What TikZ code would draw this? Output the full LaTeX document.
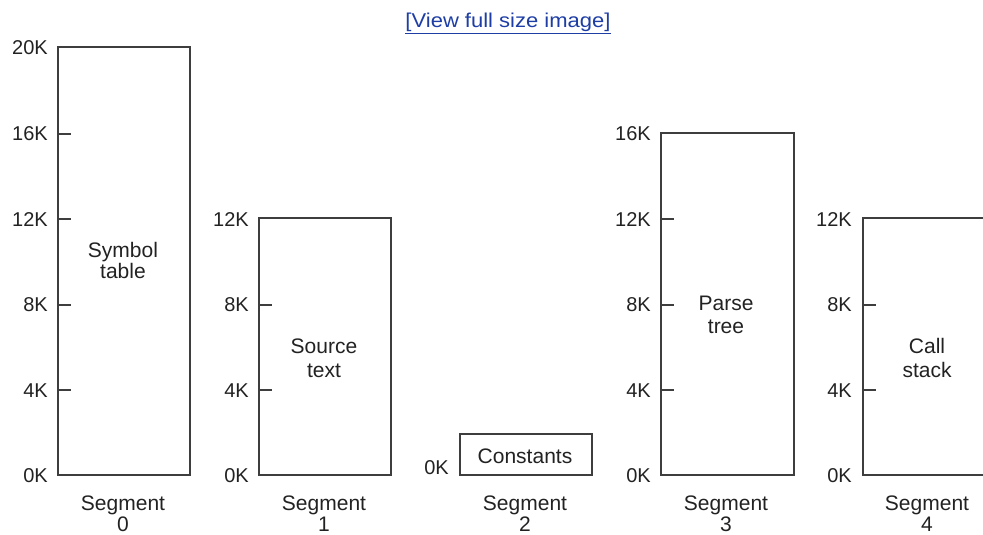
\documentclass[tikz,border=0pt]{standalone}
\usepackage{fontspec}
\setmainfont{Liberation Sans}
\definecolor{linecol}{RGB}{62,62,62}
\definecolor{txtcol}{RGB}{34,34,34}
\definecolor{linkcol}{RGB}{30,62,165}
\tikzset{
  box/.style={draw=linecol, line width=2pt, rectangle, inner sep=0pt, anchor=south west},
  tickmark/.style={draw=linecol, line width=2pt},
  ylab/.style={anchor=east, inner sep=0pt, text=txtcol, font=\fontsize{20}{24}\selectfont},
  txt/.style={anchor=base, inner sep=0pt, text=txtcol, font=\fontsize{21}{24}\selectfont},
}
\begin{document}
\begin{tikzpicture}[x=1pt,y=-1pt]
\useasboundingbox (0,0) rectangle (983,535);
\clip (0,0) rectangle (983,535);
% link
\node[anchor=base, inner sep=0pt, text=linkcol, font=\fontsize{20}{24}\selectfont] (link) at (508,28) {\scalebox{1.1}[1]{\underline{[View full size image]}}};

% Segment 0
\node[box, minimum width=132pt, minimum height=428pt] (s0) at (57,476) {};
\foreach \k/\y in {4/390.4,8/304.8,12/219.2,16/133.6}{
  \draw[tickmark] (57,\y) -- (71,\y);
  \node[ylab] (s0l\k) at (48,\y) {\k K};
}
\node[ylab] (s0l20) at (48,48) {20K};
\node[ylab] (s0l0) at (48,476) {0K};
\node[txt] (s0a) at (123,257) {Symbol};
\node[txt] (s0b) at (123,278) {table};
\node[txt] (s0c) at (123,510) {Segment};
\node[txt] (s0d) at (123,531) {0};

% Segment 1
\node[box, minimum width=132pt, minimum height=256.8pt] (s1) at (258,476) {};
\foreach \k/\y in {4/390.4,8/304.8}{
  \draw[tickmark] (258,\y) -- (272,\y);
  \node[ylab] (s1l\k) at (249,\y) {\k K};
}
\node[ylab] (s1l12) at (249,219.2) {12K};
\node[ylab] (s1l0) at (249,476) {0K};
\node[txt] (s1a) at (324,353) {Source};
\node[txt] (s1b) at (324,377) {text};
\node[txt] (s1c) at (324,510) {Segment};
\node[txt] (s1d) at (324,531) {1};

% Segment 2
\node[box, minimum width=132pt, minimum height=41pt] (s2) at (459,476) {};
\node[ylab] (s2l0) at (449,468) {0K};
\node[txt] (s2a) at (525,463) {Constants};
\node[txt] (s2c) at (525,510) {Segment};
\node[txt] (s2d) at (525,531) {2};

% Segment 3
\node[box, minimum width=133pt, minimum height=342.4pt] (s3) at (660,476) {};
\foreach \k/\y in {4/390.4,8/304.8,12/219.2}{
  \draw[tickmark] (660,\y) -- (674,\y);
  \node[ylab] (s3l\k) at (651,\y) {\k K};
}
\node[ylab] (s3l16) at (651,133.6) {16K};
\node[ylab] (s3l0) at (651,476) {0K};
\node[txt] (s3a) at (726,310) {Parse};
\node[txt] (s3b) at (726,333) {tree};
\node[txt] (s3c) at (726,510) {Segment};
\node[txt] (s3d) at (726,531) {3};

% Segment 4
\node[box, minimum width=132pt, minimum height=256.8pt] (s4) at (862,476) {};
\foreach \k/\y in {4/390.4,8/304.8}{
  \draw[tickmark] (862,\y) -- (876,\y);
  \node[ylab] (s4l\k) at (852,\y) {\k K};
}
\node[ylab] (s4l12) at (852,219.2) {12K};
\node[ylab] (s4l0) at (852,476) {0K};
\node[txt] (s4a) at (927,353) {Call};
\node[txt] (s4b) at (927,377) {stack};
\node[txt] (s4c) at (927,510) {Segment};
\node[txt] (s4d) at (927,531) {4};
\end{tikzpicture}
\end{document}
